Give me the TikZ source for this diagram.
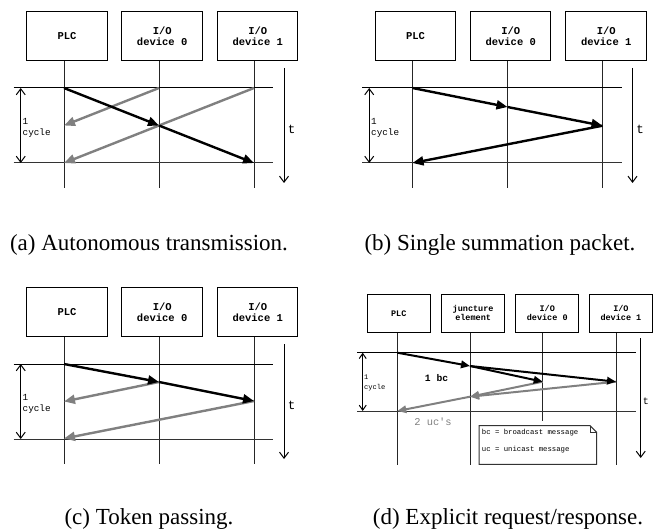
\documentclass[tikz,border=0pt]{standalone}
\usepackage{fontspec}
\setmainfont{Liberation Serif}
\setmonofont{Liberation Mono}
\usepackage{tikz}
\usetikzlibrary{arrows.meta, positioning}
\tikzstyle{devbox} = [rectangle, draw, line width=1pt, minimum width=80.5pt,
  minimum height=49pt, inner sep=0pt, align=center, font=\ttfamily\bfseries\fontsize{10.5}{11.7}\selectfont]
\tikzstyle{smallbox} = [devbox, minimum width=62.7pt, minimum height=38.3pt,
  font=\ttfamily\bfseries\fontsize{8.5}{9.3}\selectfont]
\tikzstyle{lifeline} = [line width=1pt, black!85]
\tikzstyle{hline} = [line width=1pt, black!80]
\tikzstyle{msg} = [line width=2.4pt, -{Triangle[length=11pt,width=9pt]}]
\tikzstyle{resp} = [msg, gray]
\tikzstyle{smallmsg} = [line width=2pt, -{Triangle[length=9pt,width=7.5pt]}]
\tikzstyle{smallresp} = [smallmsg, gray]
\tikzstyle{cyclespan} = [line width=1pt, {Straight Barb[length=6pt,width=9pt]}-{Straight Barb[length=6pt,width=9pt]}]
\tikzstyle{timeaxis} = [line width=1pt, -{Straight Barb[length=6pt,width=9pt]}]
\tikzstyle{caption} = [anchor=base, inner sep=0pt, font=\fontsize{23}{27}\selectfont]

% boxes, lifelines, cycle marks and time axis of one panel
\newcommand{\seqframe}[1]{%
  \node[devbox] (#1plc) at (67,36.3) {PLC};
  \node[devbox, right=13.7pt of #1plc] (#1io0) {I/O\\device 0};
  \node[devbox, right=14pt of #1io0] (#1io1) {I/O\\device 1};
  \coordinate (#1l0) at (64,188);
  \coordinate (#1l1) at (159,188);
  \coordinate (#1l2) at (254,188);
  \draw[lifeline] (#1plc.south -| #1l0) -- (#1l0);
  \draw[lifeline] (#1io0.south -| #1l1) -- (#1l1);
  \draw[lifeline] (#1io1.south -| #1l2) -- (#1l2);
  \coordinate (#1h0a) at (13.7,88);
  \coordinate (#1h0b) at (273,88);
  \coordinate (#1h1a) at (13.7,163);
  \coordinate (#1h1b) at (273,163);
  \draw[hline, black] (#1h0a) -- (#1h0b);
  \draw[hline] (#1h1a) -- (#1h1b);
  \coordinate (#1c0) at (20.7,88);
  \coordinate (#1c1) at (20.7,163);
  \draw[cyclespan] (#1c0) -- (#1c1);
  \node[anchor=west, align=left, inner sep=0pt,
    font=\ttfamily\fontsize{9.3}{10.8}\selectfont] (#1cyc) at (22.5,128) {1\\cycle};
  \coordinate (#1ta) at (284,68);
  \coordinate (#1tb) at (284,183);
  \draw[timeaxis] (#1ta) -- (#1tb);
  \node[font=\ttfamily\fontsize{12.5}{14}\selectfont, inner sep=0pt] (#1t) at (291.5,129.7) {t};
  \coordinate (#1p0) at (64,88);
  \coordinate (#1d00) at (159,88);
  \coordinate (#1d10) at (254,88);
}

\begin{document}
\begin{tikzpicture}[x=1pt, y=-1pt]
  \useasboundingbox (0,0) rectangle (660,529);

  % (a) autonomous transmission
  \seqframe{a}
  \coordinate (ad01) at (159,125.5);
  \coordinate (ap1) at (64,125.5);
  \coordinate (ad12) at (254,163);
  \coordinate (ap2) at (64,163);
  \draw[resp] (ad00) -- (ap1);
  \draw[resp] (ad10) -- (ap2);
  \draw[msg] (ap0) -- (ad01);
  \draw[msg] (ad01) -- (ad12);

  % (b) single summation packet
  \begin{scope}[shift={(348.5,0)}]
    \seqframe{b}
    \coordinate (bd01) at (159,107);
    \coordinate (bd11) at (254,125.7);
    \coordinate (bp2) at (64,163);
    \draw[msg] (bp0) -- (bd01);
    \draw[msg] (bd01) -- (bd11);
    \draw[msg] (bd11) -- (bp2);
  \end{scope}

  % (c) token passing
  \begin{scope}[shift={(0,276)}]
    \seqframe{c}
    \coordinate (cd01) at (159,106);
    \coordinate (cp1) at (64,125.5);
    \coordinate (cd11) at (254,125);
    \coordinate (cp2) at (64,162.5);
    \draw[resp] (cd01) -- (cp1);
    \draw[resp] (cd11) -- (cp2);
    \draw[msg] (cp0) -- (cd01);
    \draw[msg] (cd01) -- (cd11);
  \end{scope}

  % (d) explicit request/response
  \node[smallbox] (dplc) at (398.7,313.2) {PLC};
  \node[smallbox, right=10.7pt of dplc] (djun) {juncture\\element};
  \node[smallbox, right=10.4pt of djun] (dio0) {I/O\\device 0};
  \node[smallbox, right=10pt of dio0] (dio1) {I/O\\device 1};
  \coordinate (dl0) at (397.3,465);
  \coordinate (dl1) at (470,465);
  \coordinate (dl2) at (542.7,421);
  \coordinate (dl3) at (616,465);
  \draw[lifeline] (dplc.south -| dl0) -- (dl0);
  \draw[lifeline] (djun.south -| dl1) -- (dl1);
  \draw[lifeline] (dio0.south -| dl2) -- (dl2);
  \draw[lifeline] (dio1.south -| dl3) -- (dl3);
  \coordinate (dh0a) at (357.3,352.7);
  \coordinate (dh0b) at (636,352.7);
  \coordinate (dh1a) at (357.3,411);
  \coordinate (dh1b) at (636,411);
  \draw[hline, black] (dh0a) -- (dh0b);
  \draw[hline] (dh1a) -- (dh1b);
  \coordinate (dc0) at (362.7,352.7);
  \coordinate (dc1) at (362.7,411);
  \draw[cyclespan, {Straight Barb[length=5pt,width=7pt]}-{Straight Barb[length=5pt,width=7pt]}] (dc0) -- (dc1);
  \node[anchor=west, align=left, inner sep=0pt,
    font=\ttfamily\fontsize{7.1}{9.3}\selectfont] (dcyc) at (364,383) {1\\cycle};
  \coordinate (dta) at (640.7,338.3);
  \coordinate (dtb) at (640.7,458);
  \draw[timeaxis] (dta) -- (dtb);
  \node[font=\ttfamily\fontsize{10}{12}\selectfont, inner sep=0pt] (dt) at (645.8,401.7) {t};
  \coordinate (dp0) at (397.3,352.7);
  \coordinate (dj1) at (470,366);
  \coordinate (d01) at (542.7,381.7);
  \coordinate (d11) at (616,381.7);
  \coordinate (dj2) at (470,396.7);
  \coordinate (dp2) at (397.3,411);
  \draw[smallresp] (d01) -- (dj2);
  \draw[smallresp] (d11) -- (dj2);
  \draw[smallresp] (dj2) -- (dp2);
  \draw[smallmsg] (dp0) -- (dj1);
  \draw[smallmsg] (dj1) -- (d01);
  \draw[smallmsg] (dj1) -- (d11);
  \node[font=\ttfamily\bfseries\fontsize{9.7}{11}\selectfont] (dbc) at (436.5,377.7) {1 bc};
  \node[font=\ttfamily\fontsize{10.4}{12}\selectfont, gray] (duc) at (433,421.7) {2 uc's};
  % note with folded corner
  \draw[line width=1pt, black!80] (479,425.7) -- (590,425.7) -- (596.7,432.4)
    -- (596.7,464.3) -- (479,464.3) -- cycle;
  \draw[line width=0.8pt, black!80] (590,425.7) -- (590,432.4) -- (596.7,432.4);
  \node[anchor=west, align=left, inner sep=0pt,
    font=\ttfamily\fontsize{7.3}{16.6}\selectfont] (dnote) at (481.7,441) {bc = broadcast message\\uc = unicast message};

  % captions
  \node[caption] (capa) at (149,250) {(a) Autonomous transmission.};
  \node[caption] (capb) at (500,250) {(b) Single summation packet.};
  \node[caption] (capc) at (149,524) {(c) Token passing.};
  \node[caption] (capd) at (508,524) {(d) Explicit request/response.};
\end{tikzpicture}
\end{document}
